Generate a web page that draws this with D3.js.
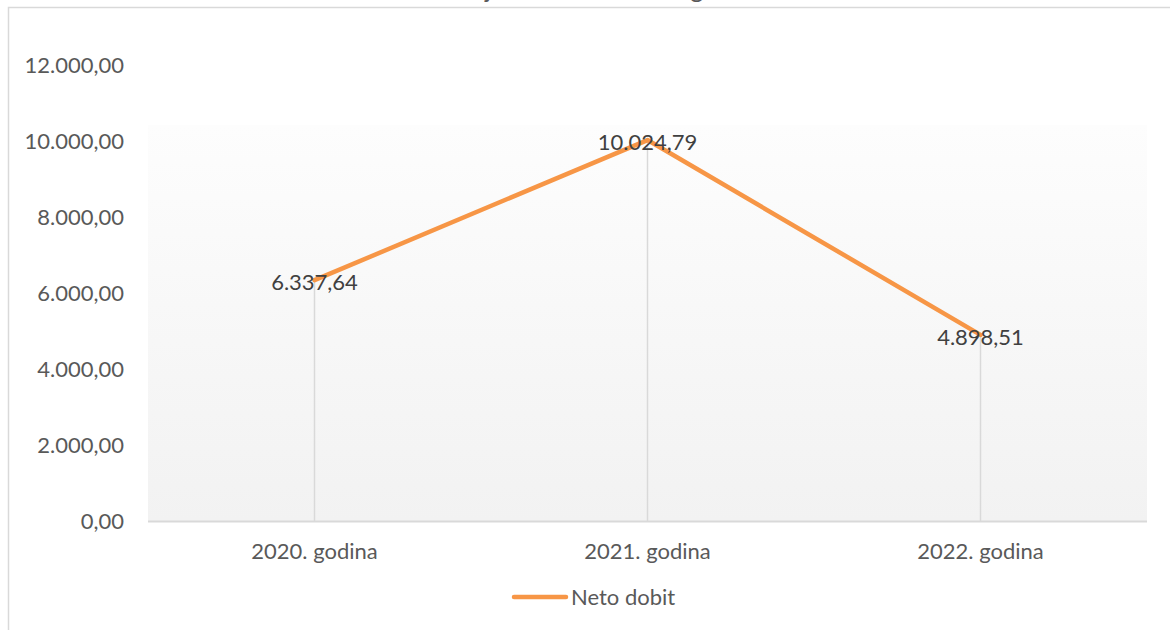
<!DOCTYPE html>
<html>
<head>
<meta charset="utf-8">
<script src="https://cdn.jsdelivr.net/npm/d3@7"></script>
<style>
  body { margin: 0; background: #fff; }
  svg text { font-family: Lato, "Open Sans", sans-serif; }
</style>
</head>
<body>
<div id="chart"></div>
<script>
const categories = ["2020. godina", "2021. godina", "2022. godina"];
const netoDobit = [6337.64, 10024.79, 4898.51];
const yTicks = [0, 2000, 4000, 6000, 8000, 10000, 12000];
const seriesName = "Neto dobit";
const titleText = "Kretanje neto dobiti kroz godine";

const w = 1170, h = 630;
const plotLeft = 148, plotRight = 1147, plotTop = 65, plotBottom = 521;

const loc = d3.formatLocale({decimal: ",", thousands: ".", grouping: [3], currency: ["", ""]});
const fmt = loc.format(",.2f");

const svg = d3.select("#chart").append("svg")
  .attr("width", w).attr("height", h);

const defs = svg.append("defs");
const grad = defs.append("linearGradient").attr("id", "bg").attr("x1", 0).attr("y1", 0).attr("x2", 0).attr("y2", 1);
grad.append("stop").attr("offset", "0%").attr("stop-color", "#fdfdfd");
grad.append("stop").attr("offset", "100%").attr("stop-color", "#f2f2f2");

// outer chart border (extends past the window like the original)
svg.append("rect")
  .attr("x", 8.5).attr("y", 7.5).attr("width", 1200).attr("height", 700)
  .attr("fill", "none").attr("stroke", "#d9d9d9").attr("stroke-width", 1.5);

// title, mostly cut off at the top
svg.append("text")
  .attr("x", 588).attr("y", -2)
  .attr("text-anchor", "middle")
  .attr("font-size", 25).attr("fill", "#595959")
  .text(titleText);

const x = d3.scalePoint().domain(categories).range([plotLeft, plotRight]).padding(0.5);
const y = d3.scaleLinear().domain([0, 12000]).range([plotBottom, plotTop]);

// plot area background
svg.append("rect")
  .attr("x", plotLeft).attr("y", 125).attr("width", plotRight - plotLeft).attr("height", plotBottom - 125)
  .attr("fill", "url(#bg)");

// y labels
svg.selectAll(".ylab")
  .data(yTicks)
  .enter()
  .append("text")
  .attr("class", "ylab")
  .attr("x", 124)
  .attr("y", d => y(d))
  .attr("dy", "0.35em")
  .attr("text-anchor", "end")
  .attr("font-size", 22)
  .attr("fill", "#595959")
  .text(d => fmt(d));

// drop lines
svg.selectAll(".drop")
  .data(netoDobit)
  .enter()
  .append("line")
  .attr("x1", (d, i) => x(categories[i]))
  .attr("x2", (d, i) => x(categories[i]))
  .attr("y1", d => y(d))
  .attr("y2", plotBottom)
  .attr("stroke", "#d9d9d9")
  .attr("stroke-width", 1.5);

// x axis line
svg.append("line")
  .attr("x1", plotLeft).attr("x2", plotRight)
  .attr("y1", plotBottom + 0.5).attr("y2", plotBottom + 0.5)
  .attr("stroke", "#d9d9d9").attr("stroke-width", 2);

// x labels
svg.selectAll(".xlab")
  .data(categories)
  .enter()
  .append("text")
  .attr("class", "xlab")
  .attr("x", d => x(d))
  .attr("y", 559)
  .attr("text-anchor", "middle")
  .attr("font-size", 22)
  .attr("fill", "#595959")
  .text(d => d);

// series line
const line = d3.line()
  .x((d, i) => x(categories[i]))
  .y(d => y(d));

svg.append("path")
  .datum(netoDobit)
  .attr("d", line)
  .attr("fill", "none")
  .attr("stroke", "#f79646")
  .attr("stroke-width", 4.5)
  .attr("stroke-linejoin", "round")
  .attr("stroke-linecap", "round");

// data labels
svg.selectAll(".dlab")
  .data(netoDobit)
  .enter()
  .append("text")
  .attr("class", "dlab")
  .attr("x", (d, i) => x(categories[i]))
  .attr("y", d => y(d) + 2)
  .attr("dy", "0.35em")
  .attr("text-anchor", "middle")
  .attr("font-size", 22)
  .attr("fill", "#404040")
  .text(d => fmt(d));

// legend
svg.append("line")
  .attr("x1", 514).attr("x2", 566)
  .attr("y1", 597).attr("y2", 597)
  .attr("stroke", "#f79646").attr("stroke-width", 4.5)
  .attr("stroke-linecap", "round");

svg.append("text")
  .attr("x", 571).attr("y", 605)
  .attr("font-size", 22)
  .attr("fill", "#595959")
  .text(seriesName);
</script>
</body>
</html>
